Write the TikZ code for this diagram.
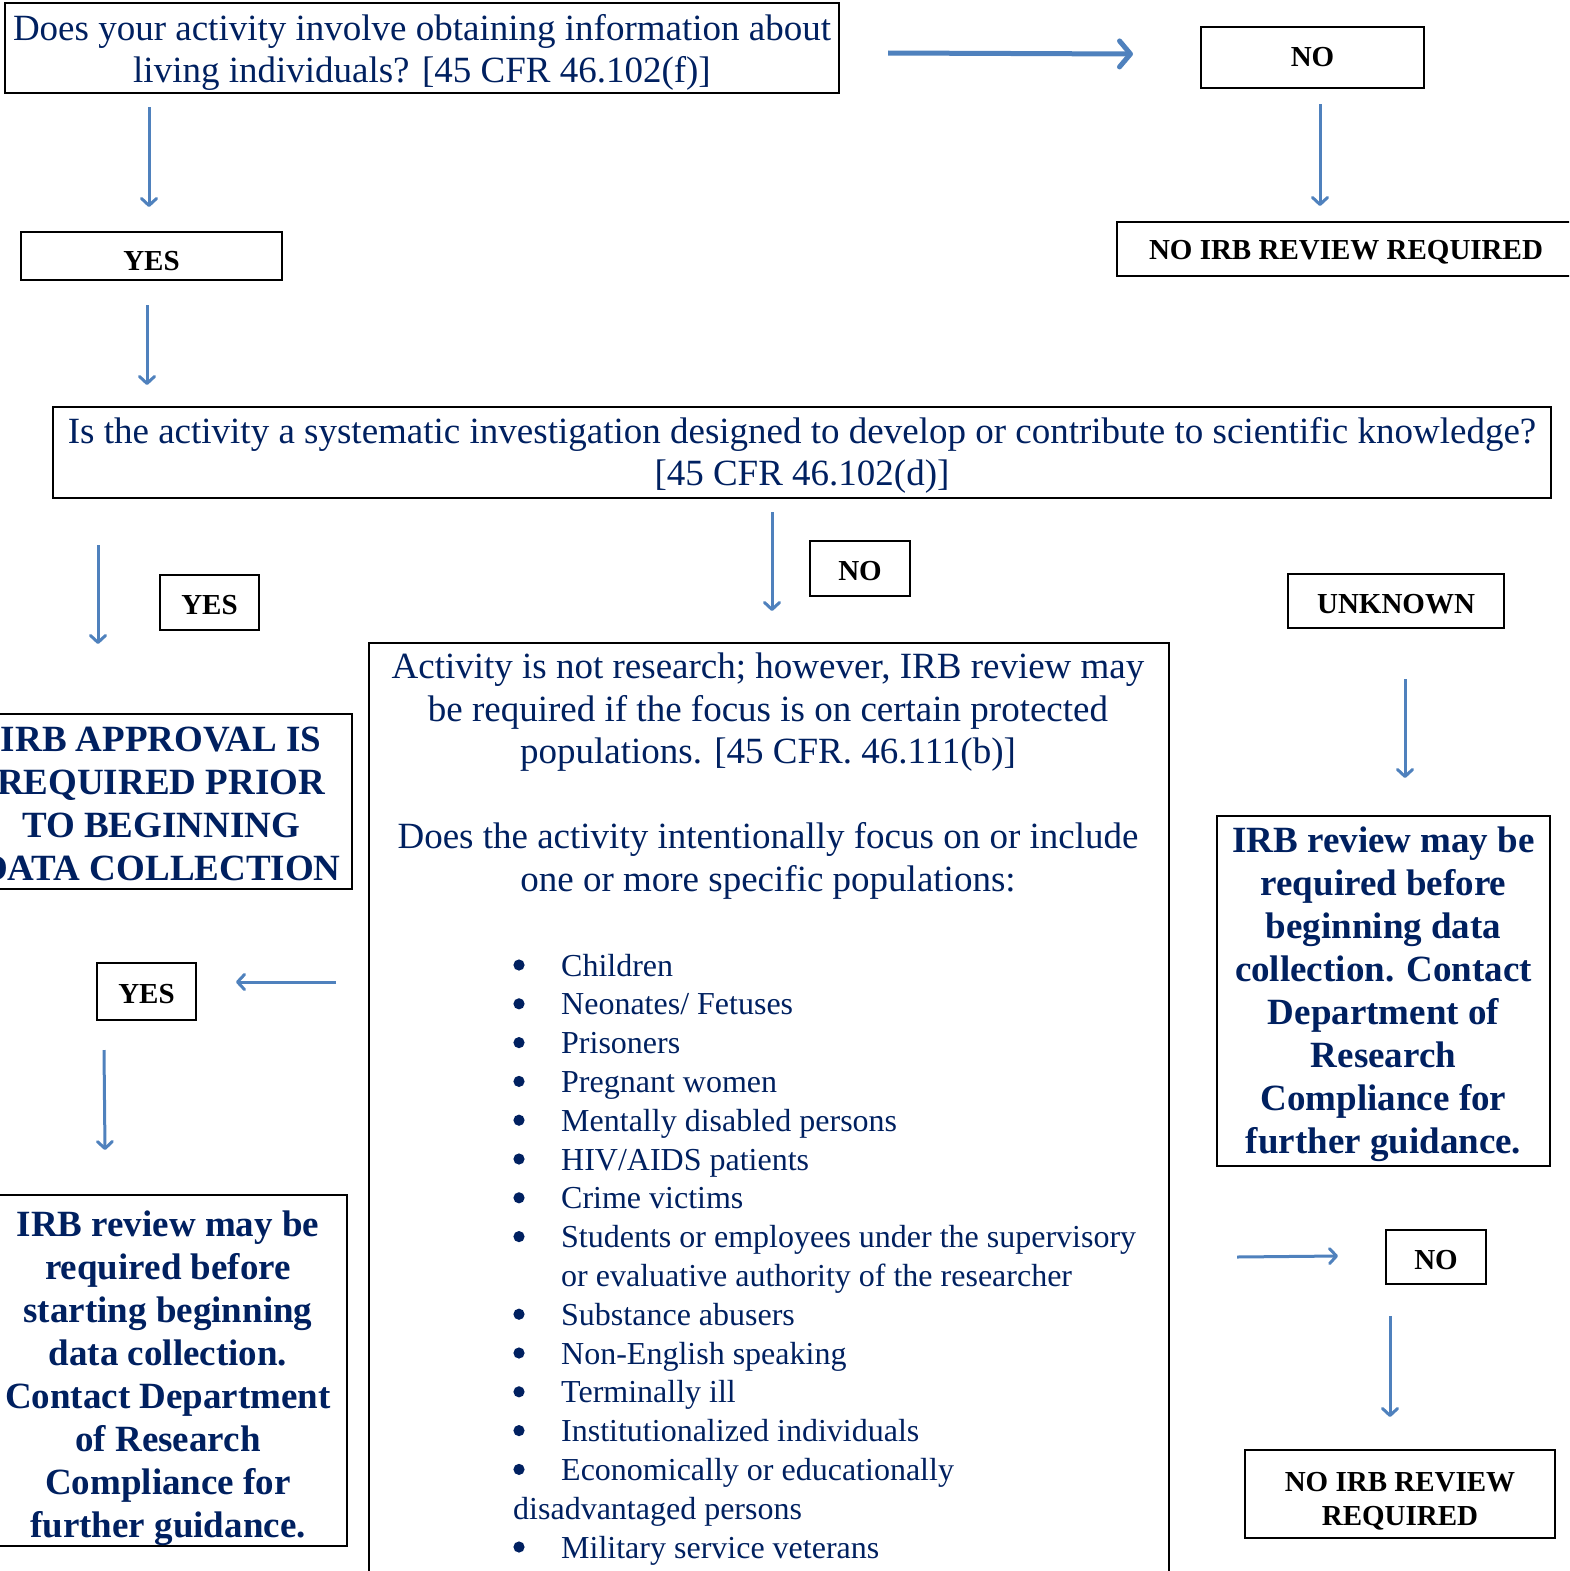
\documentclass[tikz,border=0pt]{standalone}
\usepackage{fontspec}
\setmainfont{Liberation Serif}
\usetikzlibrary{arrows.meta, positioning}

\definecolor{navytext}{RGB}{0,32,96}
\definecolor{arrowblue}{RGB}{79,129,189}
\newcommand{\dropline}[1]{\rule{0pt}{#1}}

\begin{document}
\begin{tikzpicture}[x=1pt, y=-1pt,
	drop/.style={execute at begin node={\rule{0pt}{#1}}},
	box/.style={draw=black, line width=1.6pt, inner sep=0pt, align=center},
	ask/.style={box, text=navytext, font=\fontsize{37}{42}\selectfont},
	verdict/.style={box, text=navytext, font=\fontsize{37}{43}\selectfont\bfseries},
	label box/.style={box, text=black, font=\fontsize{29}{34}\selectfont\bfseries},
	answer/.style={label box, drop=25pt},
	poptext/.style={text=navytext, inner sep=0pt, text height=24pt, text depth=7pt, font=\fontsize{32}{38}\selectfont},
	flow/.style={draw=arrowblue, line width=3pt, -{Straight Barb[length=7pt, width=15pt, round]}},
	bigflow/.style={flow, line width=5pt, -{Straight Barb[length=11pt, width=26pt, round]}}]
	\path[use as bounding box, clip] (0,0) rectangle (1569,1571);

	% first question and its answers
	\node[ask, minimum width=834, minimum height=90] (living) at (422,48)
		{\dropline{34pt}Does your activity involve obtaining information about\\ living individuals? [45 CFR 46.102(f)]};
	\node[label box, minimum width=223, minimum height=61] (nofirst) at (1312.5,57.5) {NO};
	\node[answer, minimum width=458, minimum height=54] (noreview) at (1346,249) {NO IRB REVIEW REQUIRED};
	\node[answer, drop=29.6pt, minimum width=261, minimum height=48] (yesfirst) at (151.5,256) {YES};

	% second question
	\node[ask, minimum width=1498, minimum height=91] (systematic) at (802,452.5)
		{\dropline{32pt}Is the activity a systematic investigation designed to develop or contribute to scientific knowledge?\\{}[45 CFR 46.102(d)]};
	\node[answer, minimum width=99, minimum height=55] (yessecond) at (209.5,602.5) {YES};
	\node[answer, minimum width=100, minimum height=55] (nosecond) at (860,568.5) {NO};
	\node[answer, minimum width=216, minimum height=54] (unknown) at (1396,601) {UNKNOWN};

	\node[verdict, minimum width=382, minimum height=175] (approval) at (161,801.5)
		{\dropline{29pt}IRB APPROVAL IS\\ REQUIRED PRIOR\\ TO BEGINNING\\ DATA COLLECTION};

	% not research: protected populations
	\node[box, anchor=north west, minimum width=800, minimum height=1000] (notresearch) at (368,642) {};
	\node[text=navytext, align=center, inner sep=0pt, font=\fontsize{37}{42.5}\selectfont] (notreshead) at (768,776)
		{Activity is not research; however, IRB review may\\ be required if the focus is on certain protected\\ populations. [45 CFR. 46.111(b)]\\[42.5pt]
		Does the activity intentionally focus on or include\\ one or more specific populations:};
	% 1 = bullet, 0 = no bullet
	\foreach \dot/\tx/\txt [count=\i from 0] in {1/561/Children, 1/561/{Neonates/ Fetuses}, 1/561/Prisoners,
		1/561/Pregnant women, 1/561/Mentally disabled persons, 1/561/{HIV/AIDS patients},
		1/561/Crime victims, 1/561/Students or employees under the supervisory,
		0/561/or evaluative authority of the researcher, 1/561/Substance abusers,
		1/561/Non-English speaking, 1/561/Terminally ill, 1/561/Institutionalized individuals,
		1/561/Economically or educationally, 0/513/disadvantaged persons, 1/561/Military service veterans}
	{
		\node[poptext, anchor=base west] (pop\i) at (\tx,{976+38.8*\i}) {\txt};
		\ifnum\dot=1 \fill[navytext] (519,{965+38.8*\i}) circle (5.6); \fi
	}

	\node[verdict, minimum width=333, minimum height=350] (reviewright) at (1383.5,991)
		{\dropline{33pt}IRB review may be\\ required before\\ beginning data\\ collection. Contact\\ Department of\\ Research\\ Compliance for\\ further guidance.};

	% answers to the populations question
	\node[answer, minimum width=99, minimum height=57] (yesthird) at (146.5,991.5) {YES};
	\node[verdict, minimum width=358, minimum height=345] (reviewleft) at (168,1370.5)
		{\dropline{42pt}IRB review may be\\ required before\\ starting beginning\\ data collection.\\ Contact Department\\ of Research\\ Compliance for\\ further guidance.};
	\node[answer, minimum width=100, minimum height=54] (nothird) at (1436,1257) {NO};
	\node[answer, minimum width=310, minimum height=88] (noreviewlast) at (1400,1494)
		{\dropline{33.6pt}NO IRB REVIEW\\ REQUIRED};

	% arrow ends
	\coordinate (livingout) at (888,53);
	\coordinate (nofirstin) at (1133,54);
	\coordinate (nofirstout) at (1320,104);
	\coordinate (noreviewin) at (1320,206);
	\coordinate (livingdown) at (149,107);
	\coordinate (yesfirstin) at (149,207);
	\coordinate (yesfirstout) at (147,305);
	\coordinate (systematicin) at (147,385);
	\coordinate (sysyes1) at (98,545);
	\coordinate (sysyes2) at (98,644);
	\coordinate (sysno1) at (772,512);
	\coordinate (sysno2) at (772,611);
	\coordinate (unknown1) at (1405,679);
	\coordinate (unknown2) at (1405,778);
	\coordinate (popyes1) at (336,982);
	\coordinate (popyes2) at (236,982);
	\coordinate (yesthird1) at (104,1050);
	\coordinate (yesthird2) at (105,1150);
	\coordinate (popno1) at (1237,1257);
	\coordinate (popno2) at (1338,1256);
	\coordinate (nothird1) at (1390,1316);
	\coordinate (nothird2) at (1390,1417);

	\draw[bigflow] (livingout) -- (nofirstin);
	\draw[flow] (nofirstout) -- (noreviewin);
	\draw[flow] (livingdown) -- (yesfirstin);
	\draw[flow] (yesfirstout) -- (systematicin);
	\draw[flow] (sysyes1) -- (sysyes2);
	\draw[flow] (sysno1) -- (sysno2);
	\draw[flow] (unknown1) -- (unknown2);
	\draw[flow] (popyes1) -- (popyes2);
	\draw[flow] (yesthird1) -- (yesthird2);
	\draw[flow] (popno1) -- (popno2);
	\draw[flow] (nothird1) -- (nothird2);
\end{tikzpicture}
\end{document}
